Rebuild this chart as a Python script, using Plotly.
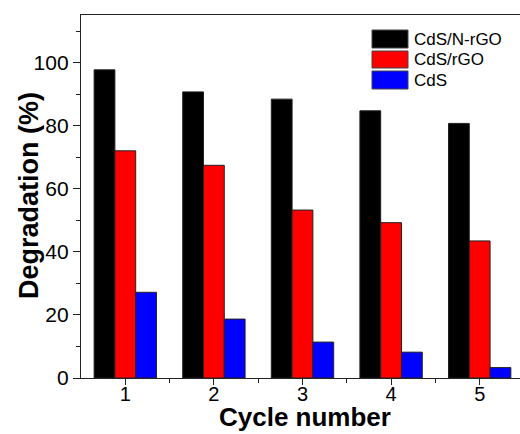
import plotly.graph_objects as go

cycles = [1, 2, 3, 4, 5]
series_names = ["CdS/N-rGO", "CdS/rGO", "CdS"]
cds_nrgo = [97.8, 90.8, 88.5, 84.8, 80.8]
cds_rgo = [72.1, 67.5, 53.3, 49.3, 43.5]
cds = [27.2, 18.7, 11.4, 8.2, 3.3]
colors = ["#000000", "#FF0000", "#0000FF"]
y_ticks = [0, 20, 40, 60, 80, 100]

W, H = 520, 434
L, R, T, B = 81, 0, 15, 56
pw, ph = W - L - R, H - T - B

def px(x):
    return (x - L) / pw

def py(y):
    return (H - B - y) / ph

FONT = "Arial, Liberation Sans, sans-serif"

fig = go.Figure()
for name, vals, c in zip(series_names, [cds_nrgo, cds_rgo, cds], colors):
    fig.add_trace(go.Bar(x=cycles, y=vals, name=name, marker=dict(color=c, line=dict(color="#222", width=1)),
                         showlegend=False))

fig.update_layout(
    width=W, height=H,
    margin=dict(l=L, r=R, t=T, b=B, pad=0),
    paper_bgcolor="white", plot_bgcolor="white",
    barmode="group", bargap=0.296, bargroupgap=0,
    font=dict(family=FONT, color="black"),
)
fig.update_xaxes(
    range=[0.5, 5.455], tickvals=cycles, ticktext=[str(c) for c in cycles],
    showgrid=False, zeroline=False, showline=True, linecolor="#222", linewidth=1.3, mirror=True,
    ticks="outside", ticklen=6, tickwidth=1.2, tickcolor="#222",
    tickfont=dict(size=20, family=FONT), ticklabelstandoff=-8,
    minor=dict(tickvals=[1.5, 2.5, 3.5, 4.5], ticks="outside", ticklen=4, tickwidth=1.2, tickcolor="#222"),
)
fig.update_yaxes(
    range=[0, 115.2], tickvals=y_ticks,
    showgrid=False, zeroline=False, showline=True, linecolor="#222", linewidth=1.3,
    ticks="outside", ticklen=7, tickwidth=1.2, tickcolor="#222",
    tickfont=dict(size=21, family=FONT),
    minor=dict(tickvals=[10, 30, 50, 70, 90, 110], ticks="outside", ticklen=4, tickwidth=1.2, tickcolor="#222"),
)

# axis titles
fig.add_annotation(text="<b>Cycle number</b>", xref="paper", yref="paper", x=px(305), y=py(417),
                   xanchor="center", yanchor="middle", showarrow=False, font=dict(size=26, family=FONT))
fig.add_annotation(text="<b>Degradation (%)</b>", xref="paper", yref="paper", x=px(29), y=py(196),
                   xanchor="center", yanchor="middle", textangle=-90, showarrow=False,
                   font=dict(size=27, family=FONT))

# legend
rows = [(30, 48), (51, 68), (71, 89)]
for (y0, y1), name, c in zip(rows, series_names, colors):
    fig.add_shape(type="rect", xref="paper", yref="paper", x0=px(372), x1=px(408), y0=py(y1), y1=py(y0),
                  fillcolor=c, line=dict(color="#444", width=1))
    fig.add_annotation(text=name, xref="paper", yref="paper", x=px(412), y=py((y0 + y1) / 2),
                       xanchor="left", yanchor="middle", showarrow=False, font=dict(size=17, family=FONT))

fig.write_html("out.html", config={"displayModeBar": False},
               post_script="document.body.style.margin='0';document.body.style.overflow='hidden';")
